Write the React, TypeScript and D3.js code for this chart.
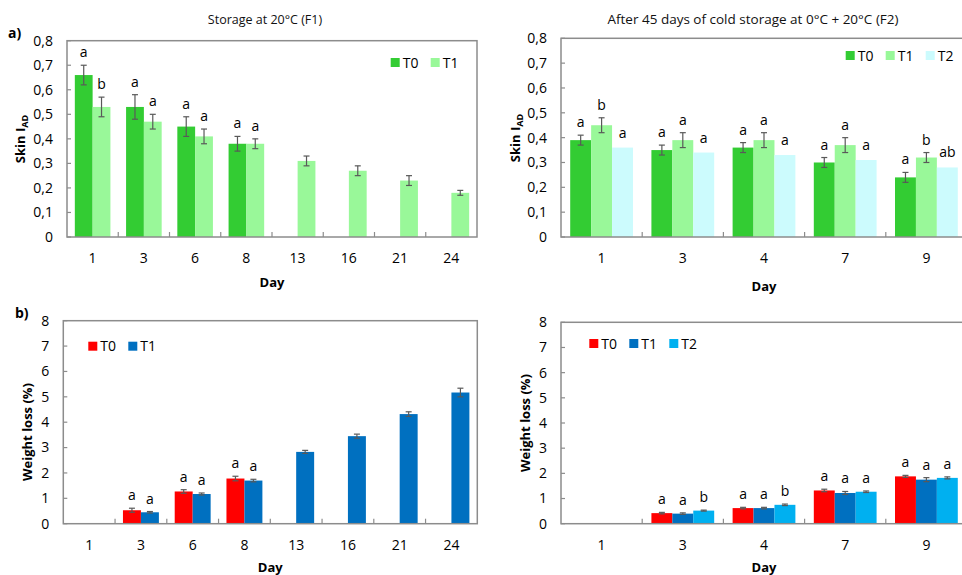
import React from 'react';
import * as d3 from 'd3';

// categories
const daysF1 = ['1', '3', '6', '8', '13', '16', '21', '24'];
const daysF2 = ['1', '3', '4', '7', '9'];

// skin IAD, storage at 20°C (F1)
const skinF1T0 = [0.66, 0.53, 0.45, 0.38, null, null, null, null];
const skinF1T0Err = [0.04, 0.05, 0.04, 0.03, null, null, null, null];
const skinF1T0Sig = ['a', 'a', 'a', 'a', null, null, null, null];
const skinF1T1 = [0.53, 0.47, 0.41, 0.38, 0.31, 0.27, 0.23, 0.18];
const skinF1T1Err = [0.04, 0.03, 0.03, 0.02, 0.02, 0.02, 0.02, 0.01];
const skinF1T1Sig = ['b', 'a', 'a', 'a', null, null, null, null];

// skin IAD, after cold storage (F2)
const skinF2T0 = [0.39, 0.35, 0.36, 0.30, 0.24];
const skinF2T0Err = [0.02, 0.02, 0.02, 0.02, 0.02];
const skinF2T0Sig = ['a', 'a', 'a', 'a', 'a'];
const skinF2T1 = [0.45, 0.39, 0.39, 0.37, 0.32];
const skinF2T1Err = [0.03, 0.03, 0.03, 0.03, 0.02];
const skinF2T1Sig = ['b', 'a', 'a', 'a', 'b'];
const skinF2T2 = [0.36, 0.34, 0.33, 0.31, 0.28];
const skinF2T2Sig = ['a', 'a', 'a', 'a', 'ab'];

// weight loss (%), F1
const wlF1T0 = [null, 0.53, 1.27, 1.78, null, null, null, null];
const wlF1T0Err = [null, 0.08, 0.07, 0.09, null, null, null, null];
const wlF1T0Sig = [null, 'a', 'a', 'a', null, null, null, null];
const wlF1T1 = [null, 0.45, 1.17, 1.70, 2.83, 3.45, 4.32, 5.17];
const wlF1T1Err = [null, 0.03, 0.04, 0.05, 0.06, 0.08, 0.09, 0.17];
const wlF1T1Sig = [null, 'a', 'a', 'a', null, null, null, null];

// weight loss (%), F2
const wlF2T0 = [null, 0.42, 0.62, 1.32, 1.88];
const wlF2T0Err = [null, 0.03, 0.03, 0.05, 0.04];
const wlF2T0Sig = [null, 'a', 'a', 'a', 'a'];
const wlF2T1 = [null, 0.40, 0.62, 1.22, 1.75];
const wlF2T1Err = [null, 0.03, 0.03, 0.06, 0.08];
const wlF2T1Sig = [null, 'a', 'a', 'a', 'a'];
const wlF2T2 = [null, 0.52, 0.75, 1.27, 1.82];
const wlF2T2Err = [null, 0.02, 0.03, 0.03, 0.04];
const wlF2T2Sig = [null, 'b', 'b', 'a', 'a'];

// tick labels
const skinTicks = [0, 0.1, 0.2, 0.3, 0.4, 0.5, 0.6, 0.7, 0.8];
const skinTickLabels = ['0', '0,1', '0,2', '0,3', '0,4', '0,5', '0,6', '0,7', '0,8'];
const wlTicks = [0, 1, 2, 3, 4, 5, 6, 7, 8];
const wlTickLabels = ['0', '1', '2', '3', '4', '5', '6', '7', '8'];

const FONT = '"Open Sans", sans-serif';
const GREEN = '#33cc33';
const LIGHTGREEN = '#99f899';
const CYAN = '#ccfbfd';
const RED = '#ff0000';
const BLUE = '#0070c0';
const SKY = '#00b0f0';

type Series = {
  name: string;
  color: string;
  values: (number | null)[];
  errors: (number | null)[] | null;
  letters: (string | null)[];
};

type PanelProps = {
  left: number; right: number; top: number; bottom: number;
  days: string[];
  series: Series[];
  yMax: number;
  ticks: number[];
  tickLabels: string[];
  title?: string;
  titleX?: number;
  titleSize?: number;
  yLabel: React.ReactNode;
  yLabelX: number;
  yLabelY: number;
  xLabelY: number;
  tickLabelY: number;
  legendX: number;
  legendY: number;
};

const Panel = (props: PanelProps) => {
  const { left, right, top, bottom, days, series, yMax, ticks, tickLabels } = props;

  const x0 = d3.scaleBand().domain(days).range([left, right]).padding(0);
  const x1 = d3.scaleBand()
    .domain(series.map(s => s.name))
    .range([0, x0.bandwidth()])
    .paddingInner(0)
    .paddingOuter(0.44);
  const y = d3.scaleLinear().domain([0, yMax]).range([bottom, top]);

  return (
    <g>
      {props.title && (
        <text x={props.titleX} y={24} textAnchor="middle" fontSize={props.titleSize} fill="#111">{props.title}</text>
      )}
      {/* bars */}
      {series.map(s => days.map((d, i) => {
        const v = s.values[i];
        if (v == null) return null;
        const bx = (x0(d) as number) + (x1(s.name) as number);
        return <rect key={s.name + d} x={bx} y={y(v)} width={x1.bandwidth()} height={bottom - y(v)} fill={s.color} />;
      }))}
      {/* error bars */}
      {series.map(s => days.map((d, i) => {
        const v = s.values[i];
        const e = s.errors ? s.errors[i] : null;
        if (v == null || e == null) return null;
        const cx = (x0(d) as number) + (x1(s.name) as number) + x1.bandwidth() / 2;
        return (
          <g key={'e' + s.name + d} stroke="#595959" strokeWidth={1.2}>
            <line x1={cx} x2={cx} y1={y(v - e)} y2={y(v + e)} />
            <line x1={cx - 3} x2={cx + 3} y1={y(v - e)} y2={y(v - e)} />
            <line x1={cx - 3} x2={cx + 3} y1={y(v + e)} y2={y(v + e)} />
          </g>
        );
      }))}
      {/* significance letters */}
      {series.map(s => days.map((d, i) => {
        const v = s.values[i];
        const l = s.letters[i];
        if (v == null || l == null) return null;
        const e = s.errors ? s.errors[i] : null;
        const cx = (x0(d) as number) + (x1(s.name) as number) + x1.bandwidth() / 2;
        const yy = e == null ? y(v) - 10 : y(v + e) - 8;
        return <text key={'l' + s.name + d} x={cx} y={yy} textAnchor="middle" fontSize={14} fill="#000">{l}</text>;
      }))}
      {/* frame */}
      <rect x={left} y={top} width={right - left} height={bottom - top} fill="none" stroke="#8c8c8c" strokeWidth={1.5} />
      {/* y ticks */}
      {ticks.map((t, i) => (
        <g key={'yt' + t}>
          <line x1={left} x2={left + 4} y1={y(t)} y2={y(t)} stroke="#8c8c8c" strokeWidth={1.2} />
          <text x={left - 14} y={y(t)} dy="0.35em" textAnchor="end" fontSize={14} fill="#000">{tickLabels[i]}</text>
        </g>
      ))}
      {/* x ticks between days */}
      {days.slice(1).map(d => (
        <line key={'xt' + d} x1={x0(d)} x2={x0(d)} y1={bottom} y2={bottom - 5} stroke="#8c8c8c" strokeWidth={1.2} />
      ))}
      {days.map(d => (
        <text key={'xl' + d} x={(x0(d) as number) + x0.bandwidth() / 2} y={props.tickLabelY} textAnchor="middle" fontSize={14} fill="#000">{d}</text>
      ))}
      <text x={(left + right) / 2} y={props.xLabelY} textAnchor="middle" fontSize={13} fontWeight="bold" fill="#000">Day</text>
      <text transform={`translate(${props.yLabelX},${props.yLabelY}) rotate(-90)`} textAnchor="middle" fontSize={13} fontWeight="bold" fill="#000">
        {props.yLabel}
      </text>
      {/* legend */}
      {series.map((s, i) => (
        <g key={'lg' + s.name}>
          <rect x={props.legendX + i * 40} y={props.legendY} width={9} height={9} fill={s.color} />
          <text x={props.legendX + i * 40 + 12} y={props.legendY + 9.5} fontSize={14} fill="#000">{s.name}</text>
        </g>
      ))}
    </g>
  );
};

const skinLabel = (
  <>
    Skin I<tspan fontSize={9} dy={3}>AD</tspan>
  </>
);

export default function App() {
  return (
    <svg width={962} height={575} style={{ position: 'absolute', left: 0, top: 0, fontFamily: FONT }}>
      <rect width={962} height={575} fill="#fff" />
      <text x={8} y={38} fontSize={14} fontWeight="bold" fill="#000">a)</text>
      <text x={15} y={318} fontSize={14} fontWeight="bold" fill="#000">b)</text>
      <Panel
        left={67} right={477} top={40.7} bottom={237}
        days={daysF1}
        series={[
          { name: 'T0', color: GREEN, values: skinF1T0, errors: skinF1T0Err, letters: skinF1T0Sig },
          { name: 'T1', color: LIGHTGREEN, values: skinF1T1, errors: skinF1T1Err, letters: skinF1T1Sig },
        ]}
        yMax={0.8} ticks={skinTicks} tickLabels={skinTickLabels}
        title="Storage at 20°C (F1)" titleX={265} titleSize={12.5}
        yLabel={skinLabel} yLabelX={25} yLabelY={139}
        tickLabelY={263} xLabelY={287}
        legendX={390.7} legendY={58}
      />
      <Panel
        left={561} right={967} top={38.3} bottom={237}
        days={daysF2}
        series={[
          { name: 'T0', color: GREEN, values: skinF2T0, errors: skinF2T0Err, letters: skinF2T0Sig },
          { name: 'T1', color: LIGHTGREEN, values: skinF2T1, errors: skinF2T1Err, letters: skinF2T1Sig },
          { name: 'T2', color: CYAN, values: skinF2T2, errors: null, letters: skinF2T2Sig },
        ]}
        yMax={0.8} ticks={skinTicks} tickLabels={skinTickLabels}
        title="After 45 days of cold storage at 0°C + 20°C (F2)" titleX={753} titleSize={13.5}
        yLabel={skinLabel} yLabelX={520} yLabelY={138}
        tickLabelY={263} xLabelY={291}
        legendX={845.7} legendY={51}
      />
      <Panel
        left={63.3} right={477.3} top={320.7} bottom={523.7}
        days={daysF1}
        series={[
          { name: 'T0', color: RED, values: wlF1T0, errors: wlF1T0Err, letters: wlF1T0Sig },
          { name: 'T1', color: BLUE, values: wlF1T1, errors: wlF1T1Err, letters: wlF1T1Sig },
        ]}
        yMax={8} ticks={wlTicks} tickLabels={wlTickLabels}
        yLabel="Weight loss (%)" yLabelX={32} yLabelY={432}
        tickLabelY={550} xLabelY={572}
        legendX={88.3} legendY={341.7}
      />
      <Panel
        left={561} right={967} top={322.3} bottom={523.7}
        days={daysF2}
        series={[
          { name: 'T0', color: RED, values: wlF2T0, errors: wlF2T0Err, letters: wlF2T0Sig },
          { name: 'T1', color: BLUE, values: wlF2T1, errors: wlF2T1Err, letters: wlF2T1Sig },
          { name: 'T2', color: SKY, values: wlF2T2, errors: wlF2T2Err, letters: wlF2T2Sig },
        ]}
        yMax={8} ticks={wlTicks} tickLabels={wlTickLabels}
        yLabel="Weight loss (%)" yLabelX={530} yLabelY={423}
        tickLabelY={550} xLabelY={572}
        legendX={589.3} legendY={339}
      />
    </svg>
  );
}
